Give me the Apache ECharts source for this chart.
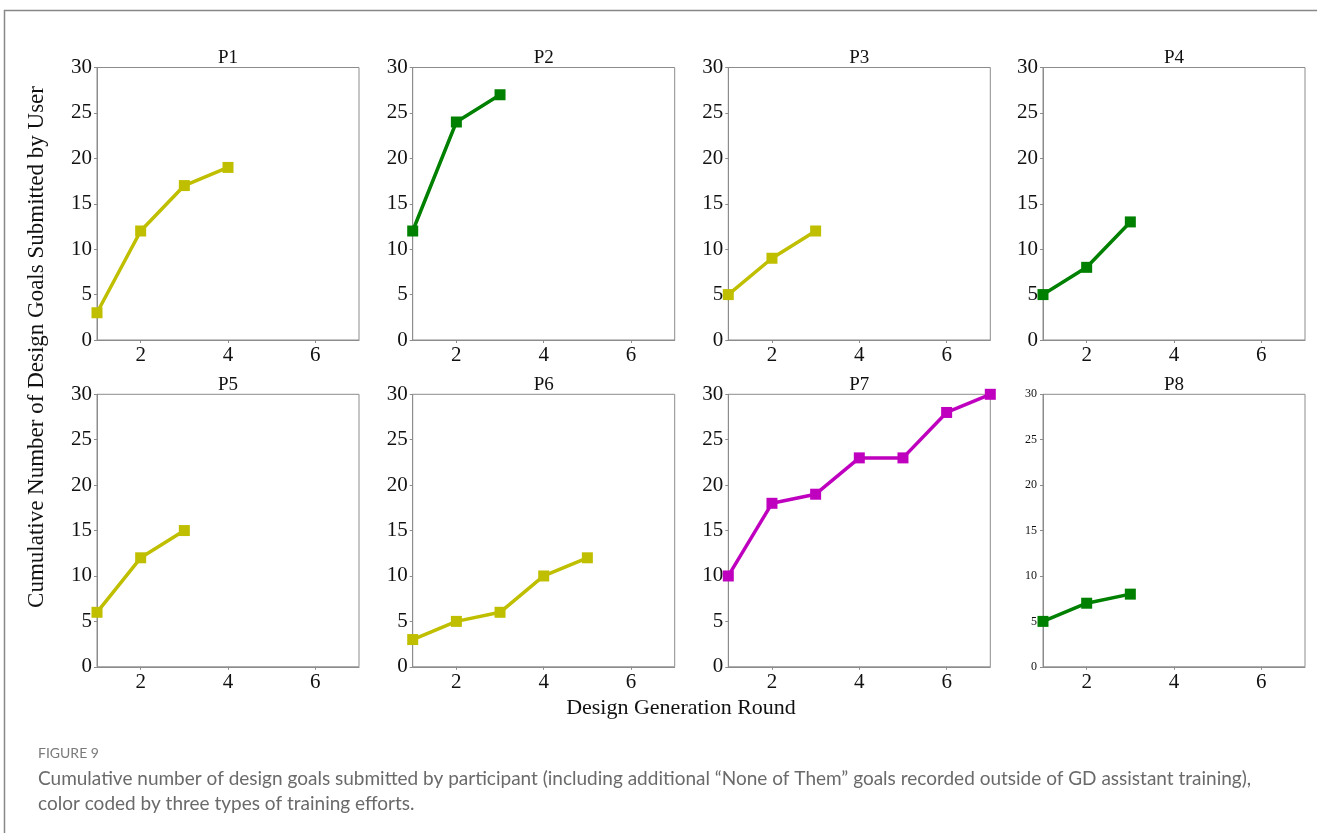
<!DOCTYPE html>
<html>
<head>
<meta charset="utf-8">
<script src="https://cdn.jsdelivr.net/npm/echarts@6/dist/echarts.min.js"></script>
<style>
html,body{margin:0;padding:0;background:#fff;}
#chart{width:1317px;height:833px;}
</style>
</head>
<body>
<div id="chart"></div>
<script>
// ---- data ----
const participants = ['P1','P2','P3','P4','P5','P6','P7','P8'];
const p1 = [3, 12, 17, 19];
const p2 = [12, 24, 27];
const p3 = [5, 9, 12];
const p4 = [5, 8, 13];
const p5 = [6, 12, 15];
const p6 = [3, 5, 6, 10, 12];
const p7 = [10, 18, 19, 23, 23, 28, 30];
const p8 = [5, 7, 8];
const seriesValues = [p1, p2, p3, p4, p5, p6, p7, p8];
const trainingType = ['y','g','y','g','y','y','m','g'];
const typeColors = {y: '#bfbf00', g: '#008000', m: '#bf00bf'};
const xTicks = [2, 4, 6];
const yTickStep = 5;
const yMax = 30;
const yAxisTitle = 'Cumulative Number of Design Goals Submitted by User';
const xAxisTitle = 'Design Generation Round';
const figLabel = 'FIGURE 9';
const captionLines = [
  'Cumulative number of design goals submitted by participant (including additional \u201cNone of Them\u201d goals recorded outside of GD assistant training),',
  'color coded by three types of training efforts.'
];

// ---- layout ----
const colLeft = [97, 412.7, 728.3, 1043];
const rowTop = [67.5, 394.3];
const gw = 262, gh = 272.5;
const serif = '"Liberation Serif", "DejaVu Serif", serif';
const sans = 'Lato, "Open Sans", sans-serif';
const axisGray = '#8c8c8c';

const grids = [], xAxes = [], yAxes = [], series = [], titles = [];
participants.forEach((name, i) => {
  const r = Math.floor(i / 4), c = i % 4;
  grids.push({left: colLeft[c], top: rowTop[r], width: gw, height: gh,
    show: true, borderColor: axisGray, borderWidth: 1, backgroundColor: 'transparent'});
  xAxes.push({type: 'value', gridIndex: i, min: 1, max: 7,
    axisLine: {show: true, lineStyle: {color: axisGray, width: 1}},
    axisTick: {show: true, length: 3, lineStyle: {color: axisGray}, customValues: xTicks},
    axisLabel: {color: '#111', fontFamily: serif, fontSize: 21, margin: 5, customValues: xTicks},
    splitLine: {show: false}});
  const small = (i === 7);
  yAxes.push({type: 'value', gridIndex: i, min: 0, max: yMax, interval: yTickStep,
    axisLine: {show: true, lineStyle: {color: axisGray, width: 1}},
    axisTick: {show: true, length: 3, lineStyle: {color: axisGray}},
    axisLabel: {color: '#111', fontFamily: serif, fontSize: small ? 12 : 21, margin: small ? 6 : 5},
    splitLine: {show: false}});
  const col = typeColors[trainingType[i]];
  series.push({type: 'line', xAxisIndex: i, yAxisIndex: i,
    data: seriesValues[i].map((v, k) => [k + 1, v]),
    symbol: 'rect', symbolSize: 11, showSymbol: true, clip: false,
    lineStyle: {color: col, width: 3.5}, itemStyle: {color: col},
    animation: false, silent: true, z: 3});
  titles.push({text: name, left: colLeft[c] + gw / 2, top: rowTop[r] - 19, textAlign: 'center',
    padding: 0, textStyle: {fontFamily: serif, fontSize: 19, fontWeight: 'normal', color: '#111'}});
});

const chart = echarts.init(document.getElementById('chart'), null, {renderer: 'canvas'});
chart.setOption({
  animation: false,
  backgroundColor: '#fff',
  title: titles,
  grid: grids,
  xAxis: xAxes,
  yAxis: yAxes,
  series: series,
  graphic: [
    {type: 'rect', shape: {x: 4.5, y: 10.5, width: 1400, height: 900},
      style: {fill: 'none', stroke: '#888', lineWidth: 1.5}, silent: true},
    {type: 'text', x: 37, y: 347, rotation: Math.PI / 2,
      style: {text: yAxisTitle, font: '23px ' + serif, fill: '#111', align: 'center', verticalAlign: 'middle'}},
    {type: 'text', x: 681, y: 708,
      style: {text: xAxisTitle, font: '22px ' + serif, fill: '#111', align: 'center', verticalAlign: 'middle'}},
    {type: 'text', x: 38, y: 753,
      style: {text: figLabel, font: '14px ' + sans, fill: '#7a7a7a', align: 'left', verticalAlign: 'middle'}},
    {type: 'text', x: 38, y: 779,
      style: {text: captionLines[0], font: '19px ' + sans, fill: '#6a6a6a', align: 'left', verticalAlign: 'middle'}},
    {type: 'text', x: 38, y: 804,
      style: {text: captionLines[1], font: '19px ' + sans, fill: '#6a6a6a', align: 'left', verticalAlign: 'middle'}}
  ]
});
</script>
</body>
</html>
